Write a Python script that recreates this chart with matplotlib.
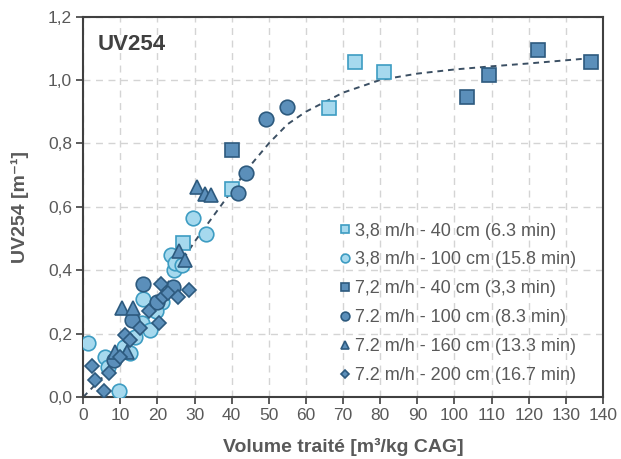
import numpy as np
import matplotlib as mpl
import matplotlib.pyplot as plt

plt.rcParams['font.family'] = ['Liberation Sans', 'DejaVu Sans']

# 3,8 m/h - 40 cm
sq_light_x = [26.9, 40.0, 66.3, 73.2, 80.9]
sq_light_y = [0.485, 0.656, 0.912, 1.056, 1.024]
# 3,8 m/h - 100 cm
ci_light_x = [1.2, 9.7, 5.9, 6.8, 10.9, 12.7, 15.8, 18.0, 16.2, 21.2, 24.5, 23.7, 24.8, 26.7, 29.7, 33.0, 19.5, 14.0]
ci_light_y = [0.171, 0.020, 0.127, 0.096, 0.159, 0.138, 0.233, 0.210, 0.308, 0.300, 0.400, 0.448, 0.423, 0.417, 0.564, 0.515, 0.270, 0.190]
# 7,2 m/h - 40 cm
sq_dark_x = [40.0, 103.3, 109.3, 122.6, 136.7]
sq_dark_y = [0.780, 0.945, 1.016, 1.093, 1.056]
# 7.2 m/h - 100 cm
ci_dark_x = [8.2, 13.1, 16.2, 24.3, 41.6, 43.9, 49.3, 54.8, 20.0]
ci_dark_y = [0.117, 0.243, 0.357, 0.348, 0.643, 0.708, 0.878, 0.915, 0.300]
# 7.2 m/h - 160 cm
tr_x = [8.6, 11.8, 10.4, 13.3, 25.9, 27.5, 30.6, 32.9, 34.4]
tr_y = [0.143, 0.143, 0.280, 0.280, 0.459, 0.433, 0.662, 0.641, 0.638]
# 7.2 m/h - 200 cm
di_x = [2.5, 3.2, 5.7, 7.0, 10.0, 11.3, 12.7, 15.3, 17.8, 20.3, 21.0, 21.6, 22.8, 25.5, 28.6]
di_y = [0.098, 0.054, 0.020, 0.075, 0.127, 0.196, 0.180, 0.217, 0.270, 0.233, 0.357, 0.315, 0.327, 0.315, 0.338]

# fitted trend line
fit_x = [0, 5, 10, 15, 20, 25, 30, 35, 40, 45, 50, 55, 60, 65, 70, 75, 80, 90, 100, 110, 120, 130, 137]
fit_y = [0.0, 0.06, 0.14, 0.22, 0.31, 0.40, 0.49, 0.57, 0.65, 0.73, 0.80, 0.86, 0.90, 0.93, 0.96, 0.98, 1.0,
         1.02, 1.033, 1.043, 1.052, 1.062, 1.069]

labels = ['3,8 m/h - 40 cm (6.3 min)', '3,8 m/h - 100 cm (15.8 min)', '7,2 m/h - 40 cm (3,3 min)',
          '7.2 m/h - 100 cm (8.3 min)', '7.2 m/h - 160 cm (13.3 min)', '7.2 m/h - 200 cm (16.7 min)']

light_fc = '#a6d9ee'
light_ec = '#3d9cc2'
dark_fc = '#5b8fba'
dark_ec = '#2d5a7e'
txt = '#595959'

fig = plt.figure(figsize=(6.21, 4.59), dpi=100)
ax = fig.add_axes([0.134, 0.135, 0.837, 0.829])

ax.plot(fit_x, fit_y, ls=(0, (3, 2.5)), color='#3b4f63', lw=1.4, zorder=2)

kw = dict(lw=0, markeredgewidth=1.2, zorder=3)
ax.plot(sq_light_x, sq_light_y, marker='s', ms=10, mfc=light_fc, mec=light_ec, label=labels[0], **kw)
ax.plot(ci_light_x, ci_light_y, marker='o', ms=10.5, mfc=light_fc, mec=light_ec, label=labels[1], **kw)
ax.plot(sq_dark_x, sq_dark_y, marker='s', ms=10, mfc=dark_fc, mec=dark_ec, label=labels[2], **kw)
ax.plot(ci_dark_x, ci_dark_y, marker='o', ms=10.5, mfc=dark_fc, mec=dark_ec, label=labels[3], **kw)
ax.plot(tr_x, tr_y, marker='^', ms=10.5, mfc=dark_fc, mec=dark_ec, label=labels[4], **kw)
ax.plot(di_x, di_y, marker='D', ms=7.5, mfc=dark_fc, mec=dark_ec, label=labels[5], **kw)

ax.set_xlim(0, 140)
ax.set_ylim(0, 1.2)
ax.set_xticks(np.arange(0, 141, 10))
ax.set_yticks(np.arange(0, 1.21, 0.2))
ax.set_yticklabels(['{:.1f}'.format(v).replace('.', ',') for v in np.arange(0, 1.21, 0.2)])
ax.grid(True, ls=(0, (5, 4)), color='#d4d4d4', lw=1.0, zorder=0)
ax.set_axisbelow(True)
for s in ax.spines.values():
    s.set_color('#404040')
    s.set_linewidth(1.5)
ax.tick_params(direction='out', length=5, width=1.2, color='#404040', labelcolor=txt, labelsize=12.5, pad=3)

ax.set_xlabel('Volume traité [m³/kg CAG]', fontsize=14, fontweight='bold', color=txt, labelpad=11)
ax.set_ylabel('UV254 [m⁻¹]', fontsize=14, fontweight='bold', color=txt, labelpad=14)
ax.text(3.8, 1.095, 'UV254', fontsize=16, fontweight='bold', color='#404040')

leg = ax.legend(loc='lower left', bbox_to_anchor=(0.48, 0.015), frameon=False, fontsize=13,
                markerscale=0.6, handlelength=0.6, handletextpad=0.25, labelspacing=0.66, borderaxespad=0.0)
for t in leg.get_texts():
    t.set_color(txt)

plt.savefig('out.png', dpi=100)
